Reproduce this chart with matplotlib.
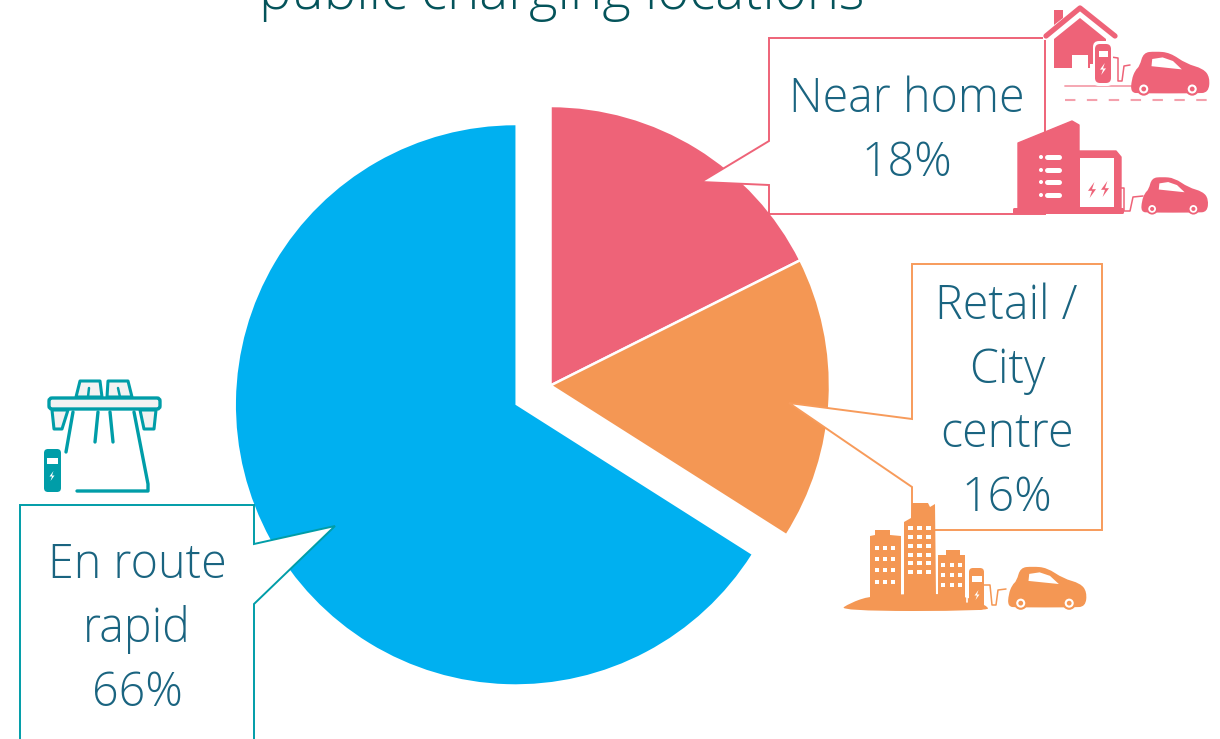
import matplotlib
matplotlib.use("Agg")
import matplotlib.pyplot as plt
from matplotlib.patches import PathPatch, Polygon, Circle, FancyBboxPatch, Rectangle
from matplotlib.path import Path

title = "public charging locations"
categories = ["Near home", "Retail / City centre", "En route rapid"]
shares = [17.6, 16.4, 66]
share_labels = ["18%", "16%", "66%"]
slice_colors = ["#EE6378", "#F49754", "#00B0F0"]
explode = [0, 0, 40]
W, H = 1220, 739

TXT = "#1A6480"
TITLE = "#04535A"
PINK = "#EE6378"
ORANGE = "#F49754"
TEAL = "#009DA8"
FONT = ["Open Sans", "DejaVu Sans"]

fig = plt.figure(figsize=(W / 100, H / 100), dpi=100, facecolor="white")
pie_ax = fig.add_axes([0, 0, 1, 1])
wedges, _ = pie_ax.pie(shares, colors=slice_colors, startangle=90, counterclock=False,
                       radius=279.5, center=(550.5, H - 385.5), explode=explode, frame=True,
                       wedgeprops={"edgecolor": "white", "linewidth": 1.8})
wedges[2].set_linewidth(0)
pie_ax.set_xlim(0, W)
pie_ax.set_ylim(0, H)
pie_ax.axis("off")

ax = fig.add_axes([0, 0, 1, 1])
ax.set_xlim(0, W)
ax.set_ylim(H, 0)
ax.axis("off")
ax.patch.set_alpha(0)


def poly(pts, fc, ec="none", lw=0, z=3, join="miter"):
    p = Polygon(pts, closed=True, fc=fc, ec=ec, lw=lw, zorder=z, joinstyle=join)
    ax.add_patch(p)
    return p


def smooth(pts, fc, z=4):
    n = len(pts)
    mid = lambda a, b: ((a[0] + b[0]) / 2, (a[1] + b[1]) / 2)
    verts = [mid(pts[-1], pts[0])]
    codes = [Path.MOVETO]
    for i in range(n):
        verts += [pts[i], mid(pts[i], pts[(i + 1) % n])]
        codes += [Path.CURVE3, Path.CURVE3]
    ax.add_patch(PathPatch(Path(verts, codes), fc=fc, ec="none", zorder=z))


def line(pts, c, lw=1.5, z=4, ls="-"):
    xs, ys = zip(*pts)
    ax.plot(xs, ys, color=c, lw=lw, ls=ls, zorder=z, solid_capstyle="round", solid_joinstyle="round")


def car(x, y, w, h, c):
    P = lambda u, v: (x + u * w, y + v * h)
    body = [(-0.02, 0.62), (0.03, 0.38), (0.09, 0.28), (0.14, -0.06), (0.3, -0.09), (0.5, -0.06),
            (0.72, 0.22), (0.95, 0.34), (1.04, 0.56), (1.02, 0.94), (0.85, 0.96), (0.1, 0.96), (-0.03, 0.94)]
    smooth([P(*b) for b in body], c, z=5)
    poly([P(.26, .1), P(.4, .06), P(.54, .15), P(.66, .36), P(.25, .28)], "white", z=6)
    rr = w * 0.09
    for u in (0.145, 0.8):
        cx, cy = P(u, 0.85)
        ax.add_patch(Circle((cx, cy), rr, fc=c, ec="none", zorder=6))
        ax.add_patch(Circle((cx, cy), rr * 0.68, fc="white", ec="none", zorder=7))
        ax.add_patch(Circle((cx, cy), rr * 0.36, fc=c, ec="none", zorder=8))


def bolt(cx, cy, s, c, z=7):
    poly([(cx + .3 * s, cy - s), (cx - .5 * s, cy + .1 * s), (cx, cy + .1 * s), (cx - .3 * s, cy + s),
          (cx + .5 * s, cy - .1 * s), (cx, cy - .1 * s)], c, z=z)


def rbox(x0, y0, x1, y1, fc, rad=2, ec="none", lw=0, z=4):
    ax.add_patch(FancyBboxPatch((x0 + rad, y0 + rad), x1 - x0 - 2 * rad, y1 - y0 - 2 * rad,
                                boxstyle=f"round,pad={rad}", fc=fc, ec=ec, lw=lw, zorder=z))


# Callouts
poly([(769, 38), (1045, 38), (1045, 214), (769, 214), (769, 185), (701, 182), (769, 141)],
     "white", PINK, 1.4, z=2)
poly([(912, 264), (1102, 264), (1102, 530), (912, 530), (912, 487), (789, 403), (912, 419)],
     "white", "#F79B5B", 1.4, z=2)
poly([(20, 505), (254, 505), (254, 544), (335, 526), (254, 604), (254, 760), (20, 760)],
     "white", TEAL, 1.4, z=2)

# Text
text_kw = dict(family=FONT, weight="light", color=TXT, ha="center", va="baseline", fontsize=33.5, zorder=9)
near_lines = [(categories[0], 907, 112), (share_labels[0], 907, 176)]
retail_lines = [("Retail /", 1006, 319), ("City", 1007, 383), ("centre", 1007, 447), (share_labels[1], 1007, 511)]
route_lines = [("En route", 137, 578), ("rapid", 137, 642), (share_labels[2], 137, 706)]
for s, x, y in near_lines + retail_lines + route_lines:
    ax.text(x, y, s, **text_kw)
ax.text(562, 9, title, family=FONT, weight="light", color=TITLE, ha="center", va="baseline", fontsize=39.3, zorder=9)

# House icon
ax.add_patch(Rectangle((1043, 34), 5, 6, fc="white", ec="none", zorder=3))
poly([(1054, 10), (1063, 10), (1063, 18), (1054, 25)], PINK)
line([(1046, 36), (1080, 8), (1115, 36)], PINK, lw=3.8)
poly([(1054, 68), (1054, 39), (1080, 18), (1106, 39), (1106, 68)], PINK, z=4)
ax.add_patch(Rectangle((1072, 55), 16, 14, fc="white", ec="none", zorder=5))
ax.add_patch(Rectangle((1090, 64), 5, 6, fc="white", ec="none", zorder=5))
rbox(1093, 41, 1113, 86, "white", rad=6, z=5)
rbox(1095, 44, 1111, 83, PINK, rad=5, z=6)
ax.add_patch(Rectangle((1099, 51), 9, 6, fc="white", ec="none", zorder=7))
bolt(1103, 69, 6, "white")
line([(1111, 57), (1118, 58), (1118, 81), (1122, 81), (1124, 66), (1130, 65)], PINK, lw=1.1)
line([(1065, 86), (1132, 86)], "#F4A0AC", lw=1.3)
line([(1065, 100), (1207, 100)], "#F4A0AC", lw=1.5, ls=(0, (5, 5.5)))
car(1133, 55, 74, 40, PINK)

# Building icon
poly([(1018, 212), (1018, 143), (1072, 121), (1079, 125), (1079, 151), (1116, 151), (1121, 157), (1121, 212)], PINK, PINK, 1, z=4, join="round")
rbox(1013, 208, 1124, 214, PINK, rad=1.5, z=4)
ax.add_patch(Rectangle((1080, 158), 34, 49, fc="white", ec="none", zorder=5))
for bx, by in ((1092, 190), (1105, 189)):
    bolt(bx, by, 8, PINK)
for by in (157, 170, 182, 195):
    line([(1047, by), (1059, by)], "white", lw=3.6, z=6)
    ax.add_patch(Circle((1041, by), 2, fc="white", ec="none", zorder=6))
line([(1121, 188), (1124, 188), (1124, 211), (1130, 211), (1133, 197), (1143, 196)], PINK, lw=1.1)
car(1143, 180, 63, 34, PINK)

# City icon
smooth([(838, 611), (850, 603), (870, 596), (900, 594), (960, 594), (988, 606), (988, 611)], ORANGE, z=4)
poly([(870, 600), (870, 536), (875, 535), (875, 530), (890, 530), (890, 535), (901, 536), (901, 600)], ORANGE, z=4)
poly([(904, 597), (904, 522), (911, 518), (912, 503), (928, 503), (930, 507), (935, 504), (936, 597)], ORANGE, z=4)
poly([(938, 600), (938, 555), (946, 555), (946, 550), (960, 550), (960, 555), (965, 555), (965, 600)], ORANGE, z=4)
rbox(969, 568, 984, 610, ORANGE, rad=4, z=6)
line([(967, 568), (967, 602)], "white", lw=1.2, z=5)
ax.add_patch(Rectangle((972, 576), 10, 6, fc="white", ec="none", zorder=7))
bolt(977, 595, 5, "white")
for colx, rows, w in (((877, 885, 893), (548, 559, 570, 582), 4),
                      ((910, 919, 928), (528, 537, 546, 555, 563, 572), 5),
                      ((943, 952, 960), (565, 575, 585), 4)):
    for cx in colx:
        for cy in rows:
            ax.add_patch(Rectangle((cx - w / 2, cy - 2), w, 4, fc="white", ec="none", zorder=5))
line([(984, 585), (990, 585), (992, 605), (996, 605), (998, 590), (1006, 589)], ORANGE, lw=1.1)
car(1010, 570, 74, 39, ORANGE)

# Motorway icon
LIGHT = "#F2F2F2"
poly([(76, 397), (80, 381), (100, 381), (102, 397)], LIGHT, TEAL, 2.2, z=4, join="round")
poly([(107, 397), (108, 381), (128, 381), (132, 397)], LIGHT, TEAL, 2.2, z=4, join="round")
line([(89, 388), (88, 397)], TEAL, lw=1.8)
line([(118, 388), (120, 397)], TEAL, lw=1.8)
poly([(52, 410), (54, 429), (62, 429), (68, 410)], LIGHT, TEAL, 2.2, z=4, join="round")
poly([(140, 410), (144, 429), (154, 429), (156, 410)], LIGHT, TEAL, 2.2, z=4, join="round")
rbox(49, 398, 160, 409, LIGHT, rad=3, ec=TEAL, lw=2.4, z=5)
line([(73, 412), (66, 452)], TEAL, lw=2.4)
line([(98, 412), (95, 442)], TEAL, lw=2.4)
line([(110, 412), (113, 442)], TEAL, lw=2.4)
line([(134, 412), (148, 484), (148, 491), (77, 491)], TEAL, lw=2.4)
rbox(44, 449, 61, 492, TEAL, rad=4, z=5)
ax.add_patch(Rectangle((47, 458), 11, 6, fc="white", ec="none", zorder=6))
bolt(52, 476, 5, "white")

fig.savefig("out.png", dpi=100, facecolor="white")
